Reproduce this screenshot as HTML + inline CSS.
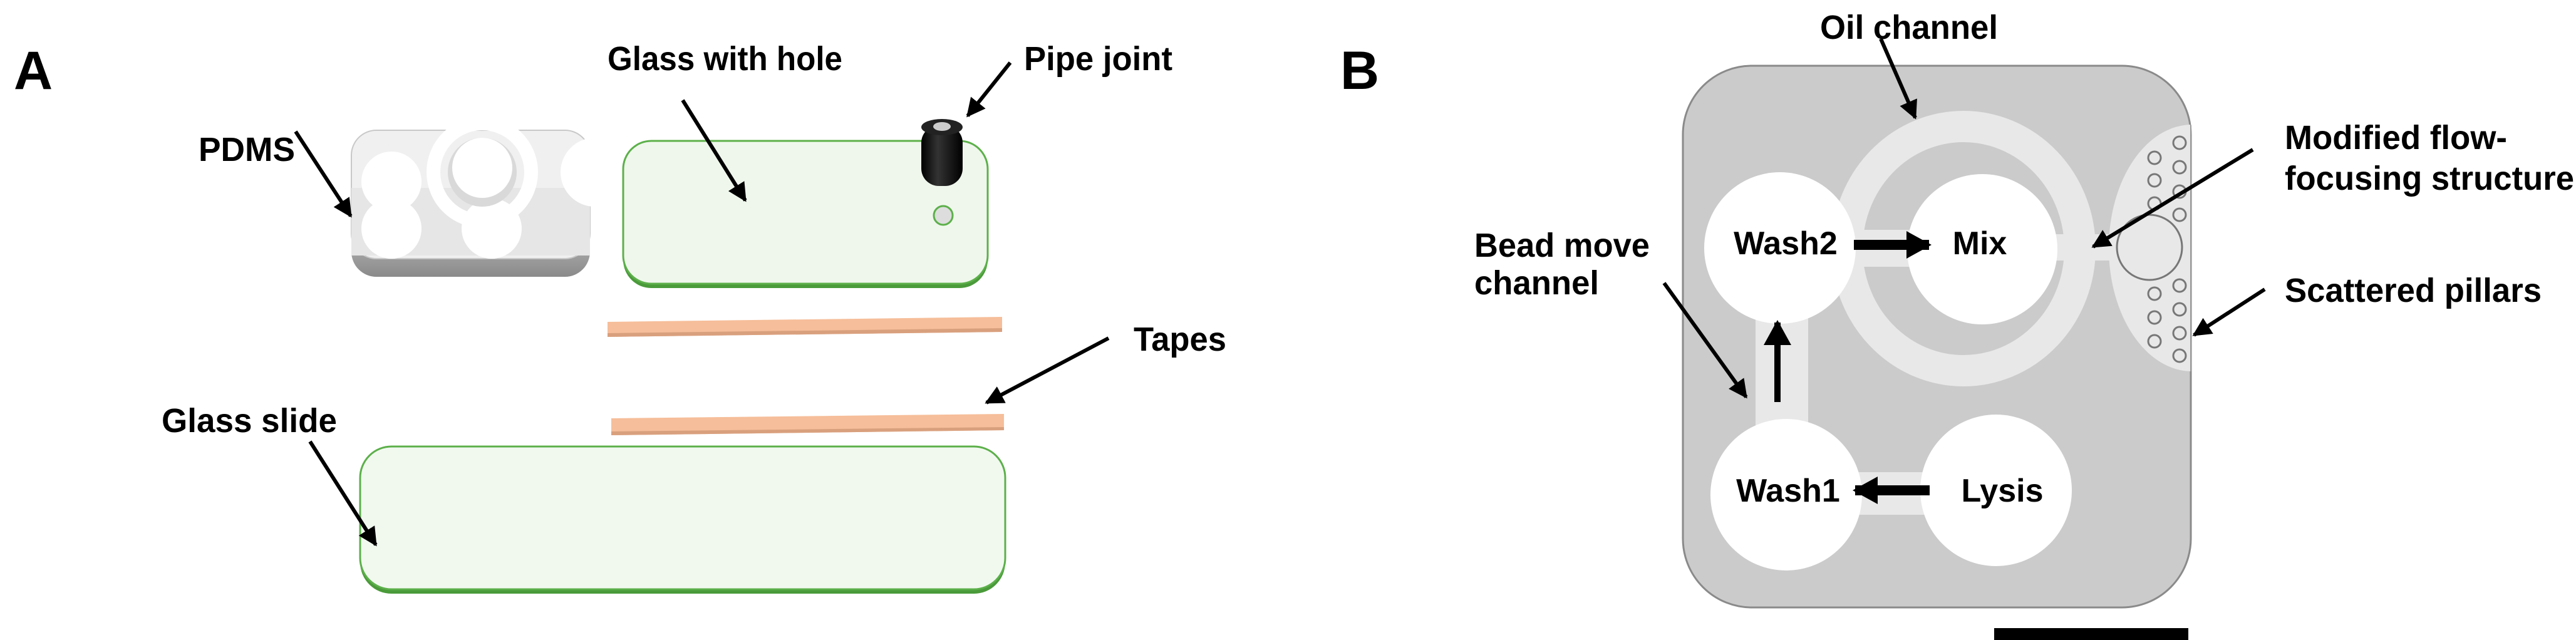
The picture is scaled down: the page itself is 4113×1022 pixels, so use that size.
<!DOCTYPE html>
<html><head><meta charset="utf-8"><style>
html,body{margin:0;padding:0;background:#fff;}
svg{display:block;}
text{font-family:"Liberation Sans",Arial,sans-serif;font-weight:bold;fill:#000;}
</style></head><body>
<svg width="4113" height="1022" viewBox="0 0 4113 1022" xmlns="http://www.w3.org/2000/svg">
<defs>
<marker id="ah" markerWidth="5" markerHeight="5" refX="4.5" refY="2.5" orient="auto" markerUnits="strokeWidth">
<path d="M0,0 L5,2.5 L0,5 Z" fill="#000"/>
</marker>
<marker id="ahb" markerWidth="40" markerHeight="44" refX="36" refY="22" orient="auto" markerUnits="userSpaceOnUse">
<path d="M0,0 L40,22 L0,44 Z" fill="#000"/>
</marker>
<linearGradient id="pipe" x1="0" x2="1"><stop offset="0" stop-color="#000"/><stop offset="0.4" stop-color="#333"/><stop offset="1" stop-color="#000"/></linearGradient>
<linearGradient id="base" x1="0" x2="0" y1="0" y2="1"><stop offset="0" stop-color="#bdbdbd"/><stop offset="1" stop-color="#8a8a8a"/></linearGradient>
<clipPath id="chipclip"><rect x="2687" y="105" width="811" height="865" rx="110"/></clipPath>
</defs>

<text x="22" y="142" font-size="86">A</text>

<rect x="561" y="360" width="381" height="82" rx="40" fill="url(#base)"/>
<rect x="561" y="208" width="381" height="205" rx="40" fill="#f0f0f0" stroke="#c8c8c8" stroke-width="2"/>
<rect x="561" y="300" width="381" height="108" fill="#e6e6e6"/>
<circle cx="625" cy="290" r="48" fill="#fff"/>
<circle cx="625" cy="365" r="48" fill="#fff"/>
<circle cx="785" cy="365" r="48" fill="#fff"/>
<rect x="600" y="290" width="30" height="75" fill="#fff"/>
<circle cx="770" cy="275" r="78" fill="none" stroke="#fff" stroke-width="22"/>
<circle cx="770" cy="275" r="55" fill="#d9d9d9"/>
<circle cx="770" cy="268" r="48" fill="#fff"/>
<circle cx="950" cy="275" r="55" fill="#fff"/>

<rect x="995" y="232" width="582" height="228" rx="45" fill="#4a9a3a"/>
<rect x="995" y="225" width="582" height="228" rx="45" fill="#eff7ec" stroke="#5cb04a" stroke-width="3"/>
<circle cx="1506" cy="344" r="15" fill="#ddd" stroke="#5cb04a" stroke-width="3"/>
<rect x="1471" y="200" width="66" height="97" rx="28" fill="url(#pipe)"/>
<ellipse cx="1504" cy="203" rx="33" ry="13" fill="#222"/>
<ellipse cx="1504" cy="202" rx="14" ry="7" fill="#ccc"/>

<polygon points="970,514 1600,506 1600,530 970,538" fill="#f6be9a"/>
<polygon points="970,532 1600,524 1600,530 970,538" fill="#d9a07e"/>
<polygon points="976,668 1603,661 1603,687 976,695" fill="#f6be9a"/>
<polygon points="976,689 1603,682 1603,687 976,695" fill="#d9a07e"/>

<rect x="575" y="720" width="1030" height="228" rx="50" fill="#4a9a3a"/>
<rect x="575" y="713" width="1030" height="228" rx="50" fill="#f1f9ef" stroke="#5cb04a" stroke-width="3"/>

<text x="317" y="257" font-size="54" textLength="154" lengthAdjust="spacingAndGlyphs">PDMS</text>
<text x="970" y="112" font-size="54" textLength="375" lengthAdjust="spacingAndGlyphs">Glass with hole</text>
<text x="1635" y="112" font-size="54" textLength="237" lengthAdjust="spacingAndGlyphs">Pipe joint</text>
<text x="1810" y="560" font-size="54" textLength="148" lengthAdjust="spacingAndGlyphs">Tapes</text>
<text x="258" y="690" font-size="54" textLength="280" lengthAdjust="spacingAndGlyphs">Glass slide</text>
<g stroke="#000" stroke-width="6" fill="none" marker-end="url(#ah)">
<line x1="472" y1="210" x2="560" y2="345"/>
<line x1="1090" y1="160" x2="1190" y2="320"/>
<line x1="1613" y1="100" x2="1545" y2="185"/>
<line x1="1770" y1="540" x2="1575" y2="643"/>
<line x1="495" y1="705" x2="600" y2="870"/>
</g>

<text x="2140" y="142" font-size="86">B</text>
<rect x="2687" y="105" width="811" height="865" rx="110" fill="#cbcbcb" stroke="#8a8a8a" stroke-width="3"/>
<g clip-path="url(#chipclip)">
<ellipse cx="3500" cy="396" rx="133" ry="197" fill="#e8e8e8"/>
</g>
<line x1="3498" y1="200" x2="3498" y2="593" stroke="#999" stroke-width="2"/>
<circle cx="3432" cy="395" r="52" fill="#e8e8e8" stroke="#777" stroke-width="3"/>
<g fill="none" stroke="#777" stroke-width="3">
<circle cx="3480" cy="228" r="10"/><circle cx="3440" cy="252" r="10"/>
<circle cx="3480" cy="267" r="10"/><circle cx="3440" cy="288" r="10"/>
<circle cx="3480" cy="306" r="10"/><circle cx="3440" cy="325" r="10"/>
<circle cx="3480" cy="343" r="10"/>
<circle cx="3480" cy="456" r="10"/><circle cx="3440" cy="469" r="10"/>
<circle cx="3480" cy="494" r="10"/><circle cx="3440" cy="507" r="10"/>
<circle cx="3480" cy="532" r="10"/><circle cx="3440" cy="545" r="10"/>
<circle cx="3480" cy="568" r="10"/>
</g>
<ellipse cx="3135" cy="397" rx="186" ry="195" fill="none" stroke="#e8e8e8" stroke-width="50"/>
<rect x="2900" y="367" width="200" height="59" fill="#e8e8e8"/>
<rect x="3260" y="374" width="115" height="42" fill="#e8e8e8"/>
<rect x="2803" y="500" width="84" height="180" fill="#e8e8e8"/>
<rect x="2930" y="754" width="180" height="68" fill="#e8e8e8"/>
<circle cx="2842" cy="396" r="121" fill="#fff"/>
<circle cx="3165" cy="398" r="120" fill="#fff"/>
<circle cx="2852" cy="790" r="121" fill="#fff"/>
<circle cx="3187" cy="783" r="121" fill="#fff"/>

<g stroke="#000" fill="none" marker-end="url(#ahb)">
<line x1="2960" y1="391" x2="3080" y2="391" stroke-width="16"/>
<line x1="2838" y1="642" x2="2838" y2="515" stroke-width="10"/>
<line x1="3081" y1="783" x2="2962" y2="783" stroke-width="16"/>
</g>

<text x="2851" y="406" font-size="52" text-anchor="middle">Wash2</text>
<text x="3161" y="406" font-size="52" text-anchor="middle">Mix</text>
<text x="2855" y="801" font-size="52" text-anchor="middle">Wash1</text>
<text x="3197" y="801" font-size="52" text-anchor="middle">Lysis</text>

<text x="2906" y="62" font-size="54" textLength="284" lengthAdjust="spacingAndGlyphs">Oil channel</text>
<text x="3648" y="238" font-size="54" textLength="355" lengthAdjust="spacingAndGlyphs">Modified flow-</text>
<text x="3648" y="303" font-size="54" textLength="462" lengthAdjust="spacingAndGlyphs">focusing structure</text>
<text x="3648" y="482" font-size="54" textLength="410" lengthAdjust="spacingAndGlyphs">Scattered pillars</text>
<text x="2354" y="410" font-size="54" textLength="280" lengthAdjust="spacingAndGlyphs">Bead move</text>
<text x="2354" y="470" font-size="54" textLength="199" lengthAdjust="spacingAndGlyphs">channel</text>

<g stroke="#000" stroke-width="6" fill="none" marker-end="url(#ah)">
<line x1="3003" y1="62" x2="3058" y2="188"/>
<line x1="3597" y1="239" x2="3342" y2="394"/>
<line x1="3616" y1="462" x2="3503" y2="535"/>
<line x1="2657" y1="452" x2="2788" y2="634"/>
</g>

<rect x="3184" y="1003" width="310" height="19" fill="#000"/>
</svg>
</body></html>
